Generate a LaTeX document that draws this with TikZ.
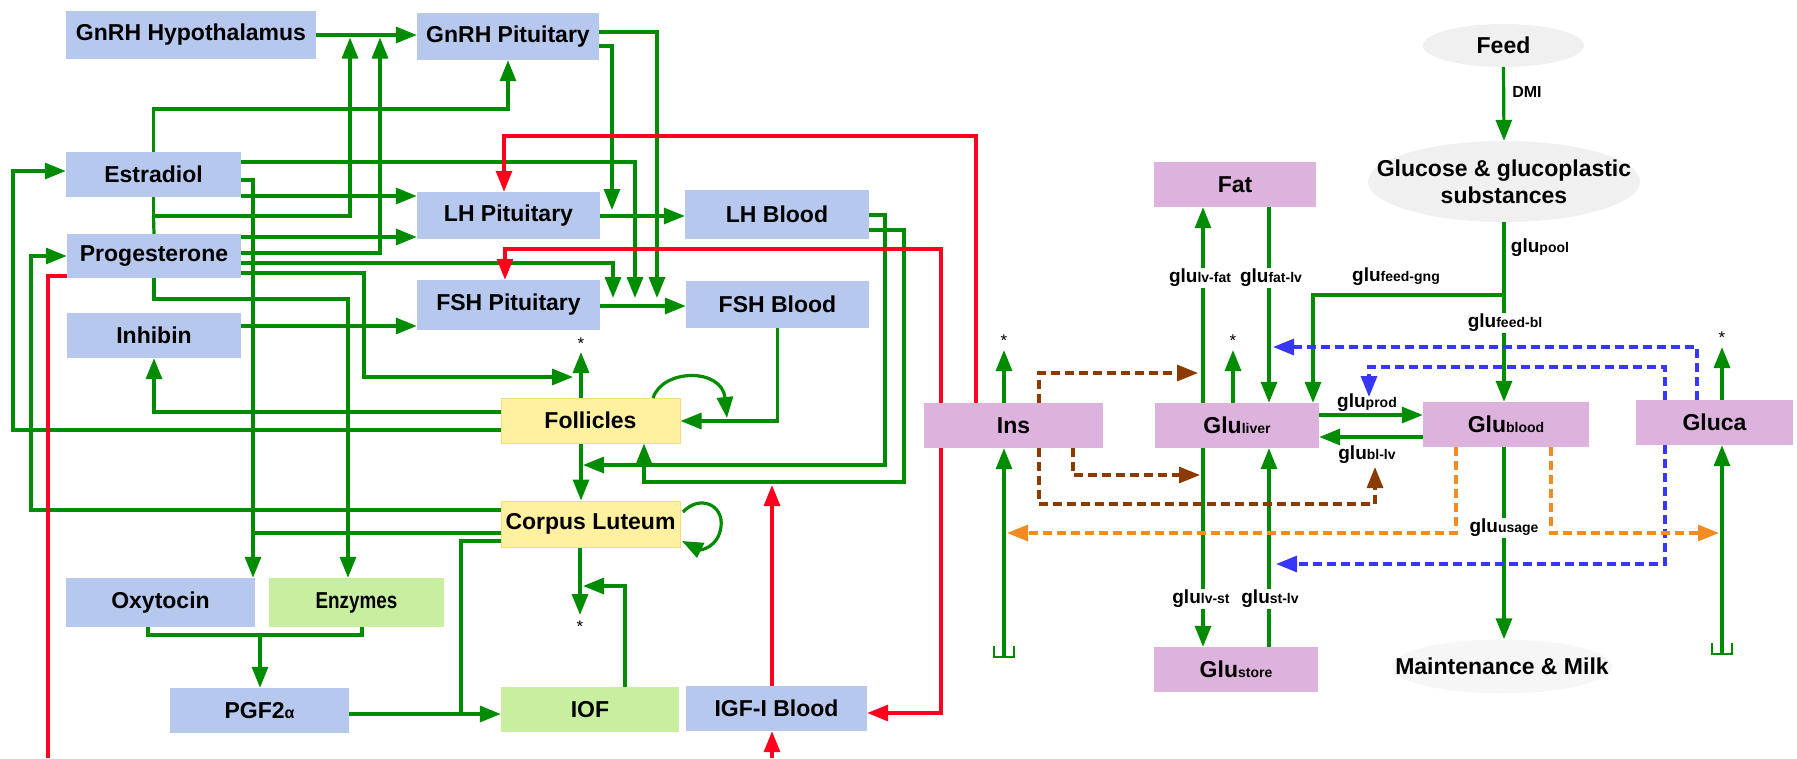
\documentclass[tikz,border=0pt]{standalone}
\usepackage{fontspec}
\setmainfont{Liberation Sans}
\newfontfamily\condfont[FakeStretch=0.82]{Liberation Sans}
\usetikzlibrary{arrows.meta,shapes.geometric,calc}
\definecolor{boxblue}{RGB}{183,200,238}
\definecolor{boxyel}{RGB}{255,241,160}
\definecolor{yelborder}{RGB}{240,222,120}
\definecolor{boxgreen}{RGB}{200,238,160}
\definecolor{boxpurple}{RGB}{221,178,221}
\definecolor{ellgray}{RGB}{240,240,240}
\definecolor{elllight}{RGB}{246,246,246}
\definecolor{lgreen}{RGB}{0,140,0}
\definecolor{lred}{RGB}{255,0,30}
\definecolor{lbrown}{RGB}{139,58,0}
\definecolor{lblue}{RGB}{55,55,250}
\definecolor{lorange}{RGB}{240,140,34}
\newcommand{\glu}[1]{{\fontsize{19}{20}\selectfont glu}{\fontsize{14}{14}\selectfont #1}}
\newcommand{\Glu}[1]{Glu{\fontsize{14}{14}\selectfont #1}}
\tikzset{
  box/.style={rectangle, inner sep=0pt, font=\fontsize{23}{26}\selectfont\bfseries},
  bbox/.style={box, fill=boxblue},
  ybox/.style={box, fill=boxyel, draw=yelborder, line width=1pt},
  gbox/.style={box, fill=boxgreen},
  pbox/.style={box, fill=boxpurple},
  ell/.style={ellipse, inner sep=0pt, fill=ellgray},
  elltext/.style={inner sep=0pt, font=\fontsize{23}{27}\selectfont\bfseries, align=center},
  tipg/.style={-{Triangle[length=21pt,width=16pt]}},
  g/.style={draw=lgreen, line width=3.2pt},
  ga/.style={g, tipg},
  r/.style={draw=lred, line width=3.2pt},
  ra/.style={r, tipg},
  ba/.style={draw=lbrown, line width=3.2pt, dash pattern=on 9pt off 5pt, tipg},
  ua/.style={draw=lblue, line width=3.2pt, dash pattern=on 9pt off 5pt, tipg},
  oa/.style={draw=lorange, line width=3.2pt, dash pattern=on 9pt off 5pt, tipg},
  elab/.style={fill=white, inner sep=1pt, font=\bfseries},
  star/.style={inner sep=0pt, font=\fontsize{17}{17}\selectfont}
}
\begin{document}
\begin{tikzpicture}[x=1pt,y=-1pt]
\useasboundingbox (0,0) rectangle (1797,758);
% ---------- nodes: left part ----------
\node[bbox, minimum width=250pt, minimum height=48pt] (hyp) at (191,35) {GnRH Hypothalamus};
\node[bbox, minimum width=182pt, minimum height=47pt] (gpit) at (508,36.5) {GnRH Pituitary};
\node[bbox, minimum width=175pt, minimum height=45pt] (estr) at (153.5,174.5) {Estradiol};
\node[bbox, minimum width=174pt, minimum height=44pt] (prog) at (154,256) {Progesterone};
\node[bbox, minimum width=183pt, minimum height=47pt] (lhp) at (508.5,215.5) {LH Pituitary};
\node[bbox, minimum width=184pt, minimum height=49pt] (lhb) at (777,214.5) {LH Blood};
\node[bbox, minimum width=183pt, minimum height=50pt] (fshp) at (508.5,305) {FSH Pituitary};
\node[bbox, minimum width=183pt, minimum height=47pt] (fshb) at (777.5,304.5) {FSH Blood};
\node[bbox, minimum width=174pt, minimum height=45pt] (inh) at (154,335.5) {Inhibin};
\node[ybox, minimum width=179pt, minimum height=45pt] (foll) at (590.5,420.5) {Follicles};
\node[ybox, minimum width=179pt, minimum height=46pt] (cl) at (590.5,524) {Corpus Luteum};
\node[bbox, minimum width=189pt, minimum height=49pt] (oxy) at (160.5,602.5) {Oxytocin};
\node[gbox, minimum width=175pt, minimum height=49pt] (enz) at (356.5,602.5) {\condfont\bfseries Enzymes};
\node[bbox, minimum width=179pt, minimum height=45pt] (pgf) at (259.5,710.5) {PGF2{\fontsize{16}{16}\selectfont α}};
\node[gbox, minimum width=178pt, minimum height=45pt] (iof) at (590,709.5) {IOF};
\node[bbox, minimum width=181pt, minimum height=45pt] (igf) at (776.5,708.5) {IGF-I Blood};
% ---------- nodes: right part ----------
\node[pbox, minimum width=179pt, minimum height=45pt] (ins) at (1013.5,425.5) {Ins};
\node[pbox, minimum width=164pt, minimum height=45pt] (gliv) at (1237,425.5) {\Glu{liver}};
\node[pbox, minimum width=166pt, minimum height=45pt] (gbl) at (1506,424.5) {\Glu{blood}};
\node[pbox, minimum width=157pt, minimum height=45pt] (gluca) at (1714.5,422.5) {Gluca};
\node[pbox, minimum width=164pt, minimum height=45pt] (gsto) at (1236,669.5) {\Glu{store}};
\node[pbox, minimum width=162pt, minimum height=45pt] (fat) at (1235,184.5) {Fat};
\node[ell, minimum width=161pt, minimum height=43pt] (feed) at (1503.5,45.5) {};
\node[elltext] (feedt) at (feed.center) {Feed};
\node[ell, minimum width=272pt, minimum height=81pt] (gluc) at (1504,181.5) {};
\node[elltext] (gluct) at (gluc.center) {Glucose \& glucoplastic\\substances};
\node[ell, fill=elllight, minimum width=220pt, minimum height=54pt] (maint) at (1502,666.5) {};
\node[elltext] (maintt) at (maint.center) {Maintenance \& Milk};
% free ends
\coordinate (gnline1) at (350,37.5);
\coordinate (gnline2) at (380,37.5);
\coordinate (fshl1) at (613,298);
\coordinate (fshl2) at (635,298);
\coordinate (fshl3) at (657,298);
\coordinate (lhl) at (612,210);
\coordinate (fstar) at (581,352);
\coordinate (cstar) at (580,615);
% ---------- green connectors, left ----------
\draw[ga] (hyp.east) -- (gpit.west |- hyp.east);
\draw[ga] (estr.north) -- (153.5,109) -| (gpit.south);
\draw[g] (prog.north) -- (estr.south |- 0,216);
\draw[ga] (estr.south) |- (350,216) -- (gnline1);
\draw[ga] (prog.east |- 0,253) -| (gnline2);
\draw[ga] (estr.east |- 0,196) -- (lhp.west |- 0,196);
\draw[ga] (prog.east |- 0,237) -- (lhp.west |- 0,237);
\draw[ga] (estr.east |- 0,180) -| (oxy.north -| 253,0);
\draw[g] (cl.west |- 0,533) -- (253,533);
\draw[ga] (prog.south) |- (348,299) -- (enz.north -| 348,0);
\draw[ga] (estr.east |- 0,162) -| (fshl2);
\draw[ga] (prog.east |- 0,263) -| (fshl1);
\draw[ga] (gpit.east |- 0,32) -| (fshl3);
\draw[ga] (gpit.east |- 0,46) -| (lhl);
\draw[ga] (lhp.east |- 0,216) -- (lhb.west |- 0,216);
\draw[ga] (fshp.east |- 0,306) -- (fshb.west |- 0,306);
\draw[ga] (inh.east |- 0,326) -- (fshp.west |- 0,326);
\draw[ga] (prog.east |- 0,273) -| (364,377) -- (573,377);
\draw[ga] (foll.north -| 581,0) -- (fstar);
\node[star] (s1) at (581,344) {*};
\draw[ga] (foll.west |- 0,430) -| (13,171) -- (estr.west |- 0,171);
\draw[ga] (cl.west |- 0,510) -| (31,256) -- (prog.west);
\draw[ga] (foll.west |- 0,412) -| (inh.south);
\draw[ga] (foll.south -| 581,0) -- (cl.north -| 581,0);
\draw[ga] (cl.south -| 580,0) -- (cstar);
\node[star] (s2) at (580,627) {*};
\draw[ga] (iof.north -| 625,0) |- (583,586);
\draw[g] (cl.west |- 0,541) -| (461,714);
\draw[ga] (pgf.east |- 0,714) -- (iof.west |- 0,714);
\draw[g] (oxy.south -| 148,0) |- (362,635) -- (enz.south -| 362,0);
\draw[ga] (260,635) -- (pgf.north -| 260,0);
\draw[ga] (lhb.east |- 0,215) -| (885,465) -- (583,465);
\draw[ga] (lhb.east |- 0,230) -| (904,482) -| (foll.south -| 644,0);
\draw[ga] (fshb.south) |- (foll.east |- 0,421);
\draw[ga] (653,398) .. controls (663,368) and (722,368) .. (727,418);
\draw[ga] (683,512) .. controls (700,494) and (724,505) .. (721,527) .. controls (718,548) and (700,550) .. (682,541);
% ---------- red connectors ----------
\draw[ra] (ins.north -| 976,0) |- (504,136) -- (lhp.north -| 504,0);
\draw[ra] (ins.north -| 941,0) |- (505,249) -- (fshp.north -| 505,0);
\draw[ra] (ins.south -| 941,0) |- (igf.east |- 0,713);
\draw[ra] (igf.north -| 772,0) -- (772,485);
\coordinate (igfin) at (772,758);
\draw[ra] (igfin) -- (igf.south -| 772,0);
\coordinate (progout) at (48,758);
\draw[r] (prog.west |- 0,276) -| (progout);
% ---------- right part ----------
\draw[ga] (feed.south) -- (gluc.north);
\node[font=\fontsize{16}{16}\selectfont\bfseries] (dmi) at (1527,92) {DMI};
\draw[ga] (gluc.south) -- (gbl.north -| gluc.south);
\draw[ga] (gluc.south |- 0,295) -| (gliv.north -| 1313,0);
\draw[ga] (gliv.north -| 1203,0) -- (fat.south -| 1203,0);
\draw[ga] (fat.south -| 1269,0) -- (gliv.north -| 1269,0);
\draw[ga] (gliv.south -| 1203,0) -- (gsto.north -| 1203,0);
\draw[ga] (gsto.north -| 1269,0) -- (gliv.south -| 1269,0);
\draw[ga] (gliv.east |- 0,415) -- (gbl.west |- 0,415);
\draw[ga] (gbl.west |- 0,437) -- (gliv.east |- 0,437);
\draw[ga] (gliv.north -| 1233,0) -- (1233,350);
\node[star] (s3) at (1233,341) {*};
\draw[ga] (ins.north -| 1004,0) -- (1004,350);
\node[star] (s4) at (1004,341) {*};
\draw[ga] (gluca.north -| 1722,0) -- (1722,347);
\node[star] (s5) at (1722,338) {*};
\draw[ga] (gbl.south -| 1504,0) -- (maint.north -| 1504,0);
\coordinate (sinkins) at (1004,657);
\coordinate (sinkglc) at (1722,654);
\draw[ga] (sinkins) -- (ins.south -| 1004,0);
\draw[ga] (sinkglc) -- (gluca.south -| 1722,0);
\draw[g, line width=2.6pt] (994,646) -- (994,657) -- (1014,657) -- (1014,646);
\draw[g, line width=2.6pt] (1712,643) -- (1712,654) -- (1732,654) -- (1732,643);
% brown dashed
\draw[ba] (ins.north -| 1039,0) |- (1198,373);
\draw[ba] (ins.south -| 1073,0) |- (1200,475);
\draw[ba] (ins.south -| 1039,0) |- (1375,504) -- (1375,467);
% blue dashed
\draw[ua] (gluca.north -| 1697,0) |- (1273,347);
\draw[ua] (gluca.north -| 1665,0) |- (1369,367) -- (1369,397);
\draw[ua] (gluca.south -| 1665,0) |- (1276,564);
% orange dashed
\draw[oa] (gbl.south -| 1456,0) |- (1007,533);
\draw[oa] (gbl.south -| 1551,0) |- (1719,533);
% labels
\node[elab] (lpool) at (1540,248) {\glu{pool}};
\node[elab] (lgng) at (1396,277) {\glu{feed-gng}};
\node[elab] (lfbl) at (1505,323) {\glu{feed-bl}};
\node[elab] (llvfat) at (1200,278) {\glu{lv-fat}};
\node[elab] (lfatlv) at (1271,278) {\glu{fat-lv}};
\node[elab] (llvst) at (1201,599) {\glu{lv-st}};
\node[elab] (lstlv) at (1270,599) {\glu{st-lv}};
\node[elab, fill=none] (lprod) at (1367,403) {\glu{prod}};
\node[elab, fill=none] (lbllv) at (1367,455) {\glu{bl-lv}};
\node[elab] (lusage) at (1504,528) {\glu{usage}};
\end{tikzpicture}
\end{document}
